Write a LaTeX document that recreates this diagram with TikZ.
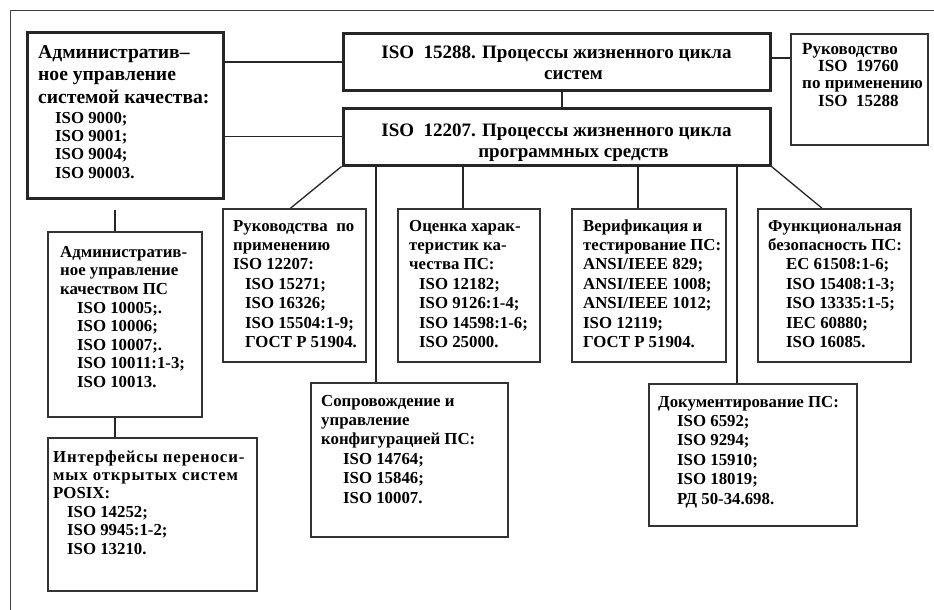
\documentclass[tikz,border=0pt]{standalone}
\usepackage{fontspec}
\setmainfont{Liberation Serif}
\newcommand{\bodyfont}{\fontsize{16.8}{19.4}\selectfont\bfseries}
\newcommand{\bodyfontb}{\fontsize{16.8}{18.6}\selectfont\bfseries}
\newcommand{\bodyfontc}{\fontsize{16.8}{18.4}\selectfont\bfseries}
\newcommand{\headfont}{\fontsize{19.6}{22.5}\selectfont\bfseries}
\newcommand{\isofont}{\fontsize{16.8}{18.3}\selectfont\bfseries}
\newcommand{\titlefont}{\fontsize{19}{21}\selectfont\bfseries}
\newcommand{\smallfont}{\fontsize{17}{17.3}\selectfont\bfseries}
\begin{document}
\begin{tikzpicture}[x=1pt,y=-1pt,
  thickbox/.style={draw=black!85, line width=3pt, inner sep=0pt},
  thinbox/.style={draw=black!80, line width=1.6pt, inner sep=0pt},
  conn/.style={draw=black!85, line width=1.3pt},
  frameline/.style={draw=black!75, line width=1pt},
  txt/.style={anchor=north west, align=left, inner sep=0pt},
  ctxt/.style={anchor=north, align=center, inner sep=0pt},
]
\useasboundingbox (0,0) rectangle (934,610);
\fill[white] (0,0) rectangle (934,610);
% outer frame (partly visible)
\coordinate (fr1) at (10,610);
\coordinate (fr2) at (10,11);
\coordinate (fr3) at (934,11);
\draw[frameline] (fr1) -- (fr2) -- (fr3);

% boxes
\node[thickbox, minimum width=196pt, minimum height=165pt] (admin) at (125,115.5) {};
\node[thickbox, minimum width=427pt, minimum height=56pt] (s15288) at (556.5,62) {};
\node[thickbox, minimum width=427pt, minimum height=57pt] (s12207) at (556.5,136.5) {};
\node[thinbox, minimum width=137pt, minimum height=111pt] (g19760) at (859.5,89.5) {};
\node[thinbox, minimum width=154pt, minimum height=185pt] (adminq) at (125,324.5) {};
\node[thinbox, minimum width=209pt, minimum height=153pt] (posix) at (152.5,514.5) {};
\node[thinbox, minimum width=143pt, minimum height=153pt] (guide) at (294.5,285.5) {};
\node[thinbox, minimum width=142pt, minimum height=153pt] (eval) at (469,285.5) {};
\node[thinbox, minimum width=154pt, minimum height=153pt] (verif) at (649,285.5) {};
\node[thinbox, minimum width=153pt, minimum height=153pt] (func) at (834.5,285.5) {};
\node[thinbox, minimum width=197pt, minimum height=154pt] (maint) at (409.5,460) {};
\node[thinbox, minimum width=208pt, minimum height=142pt] (doc) at (753,455) {};

% connectors
\draw[conn] (s15288.west) -- (s15288.west -| admin.east);
\draw[conn] (s12207.west) -- (s12207.west -| admin.east);
\draw[conn] (s15288.south -| 562,0) -- (s12207.north -| 562,0);
\draw[conn] ([yshift=4pt]s15288.east) -- ([yshift=4pt]s15288.east -| g19760.west);
\draw[conn] (s12207.south west) -- ([xshift=-4pt]guide.north);
\draw[conn] (s12207.south -| 376,0) -- (maint.north -| 376,0);
\draw[conn] (s12207.south -| 463,0) -- (eval.north -| 463,0);
\draw[conn] (s12207.south -| 638,0) -- (verif.north -| 638,0);
\draw[conn] (s12207.south -| 737,0) -- (doc.north -| 737,0);
\draw[conn] (s12207.south east) -- (func.north -| 822,0);
\coordinate (adminstub) at (115,210);
\draw[conn] (adminstub) -- (adminq.north -| adminstub);
\draw[conn] (adminq.south -| 115,0) -- (posix.north -| 115,0);

% texts
\node[ctxt, font=\titlefont] (t15288) at (556.5,43.3) {\strut ISO~~15288. Процессы жизненного цикла\\\hspace*{34pt}систем};
\node[ctxt, font=\titlefont] (t12207) at (556.5,121.3) {\strut ISO~~12207. Процессы жизненного цикла\\\hspace*{34pt}программных средств};
\node[txt, font=\smallfont] (tg19760) at (802,41.9) {\strut Руководство\\\hspace*{16pt}ISO~~19760\\по применению\\\hspace*{16pt}ISO~~15288};
\node[txt, font=\headfont] (tadminh) at (38,42.3) {\strut Административ–\\ное управление\\системой качества:};
\node[txt, font=\isofont] (tadmini) at (55,110.2) {\strut ISO 9000;\\ISO 9001;\\ISO 9004;\\ISO 90003.};
\node[txt, font=\bodyfontb] (tadminq) at (60,244) {\strut Административ-\\ное управление\\качеством ПС\\\hspace*{17pt}ISO 10005;.\\\hspace*{17pt}ISO 10006;\\\hspace*{17pt}ISO 10007;.\\\hspace*{17pt}ISO 10011:1-3;\\\hspace*{17pt}ISO 10013.};
\node[txt, font=\bodyfontc] (tposix) at (53,449) {\strut{\addfontfeature{LetterSpace=5}Интерфейсы переноси-}\\{\addfontfeature{LetterSpace=5}мых открытых систем}\\POSIX:\\\hspace*{14pt}ISO 14252;\\\hspace*{14pt}ISO 9945:1-2;\\\hspace*{14pt}ISO 13210.};
\node[txt, font=\bodyfont] (tguide) at (233,217.4) {\strut Руководства~~по\\применению\\ISO 12207:\\\hspace*{12pt}ISO 15271;\\\hspace*{12pt}ISO 16326;\\\hspace*{12pt}ISO 15504:1-9;\\\hspace*{12pt}ГОСТ Р 51904.};
\node[txt, font=\bodyfont] (teval) at (409,217.4) {\strut Оценка харак-\\теристик ка-\\чества ПС:\\\hspace*{10pt}ISO 12182;\\\hspace*{10pt}ISO 9126:1-4;\\\hspace*{10pt}ISO 14598:1-6;\\\hspace*{10pt}ISO 25000.};
\node[txt, font=\bodyfont] (tverif) at (583,217.4) {\strut Верификация и\\тестирование ПС:\\ANSI/IEEE 829;\\ANSI/IEEE 1008;\\ANSI/IEEE 1012;\\ISO 12119;\\ГОСТ Р 51904.};
\node[txt, font=\bodyfont] (tfunc) at (768,217.4) {\strut Функциональная\\безопасность ПС:\\\hspace*{18pt}EC 61508:1-6;\\\hspace*{18pt}ISO 15408:1-3;\\\hspace*{18pt}ISO 13335:1-5;\\\hspace*{18pt}IEC 60880;\\\hspace*{18pt}ISO 16085.};
\node[txt, font=\bodyfont] (tmaint) at (321,392.4) {\strut Сопровождение и\\управление\\конфигурацией ПС:\\\hspace*{22pt}ISO 14764;\\\hspace*{22pt}ISO 15846;\\\hspace*{22pt}ISO 10007.};
\node[txt, font=\bodyfont] (tdoc) at (658,393.4) {\strut Документирование ПС:\\\hspace*{19pt}ISO 6592;\\\hspace*{19pt}ISO 9294;\\\hspace*{19pt}ISO 15910;\\\hspace*{19pt}ISO 18019;\\\hspace*{19pt}РД 50-34.698.};
\end{tikzpicture}
\end{document}
